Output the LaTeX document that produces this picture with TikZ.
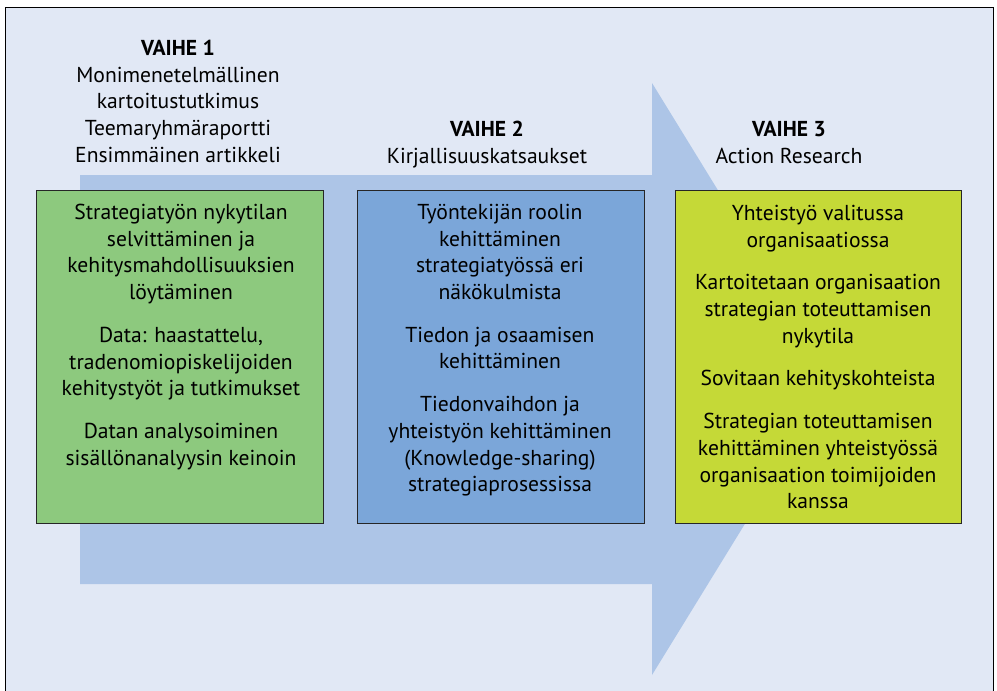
\documentclass[tikz,border=0pt]{standalone}
\usepackage{fontspec}
\setmainfont{PT Sans}
\definecolor{bgc}{HTML}{E1E8F5}
\definecolor{arrowc}{HTML}{ADC5E7}
\definecolor{greenc}{HTML}{8DC97E}
\definecolor{bluec}{HTML}{7BA6D9}
\definecolor{yellowc}{HTML}{C5D937}
\begin{document}
\begin{tikzpicture}[x=1pt,y=-1pt,
  txt/.style={align=center, inner sep=0pt, anchor=north, font=\fontsize{21.6}{26.7}\selectfont},
  phasebox/.style={draw=black!85, line width=1.2pt, anchor=north west, minimum width=287pt, minimum height=333pt, inner sep=0pt}]
\useasboundingbox (0,0) rectangle (997,691);
\fill[white] (0,0) rectangle (997,691);
\fill[bgc] (5,7) rectangle (993,691);
\draw[black, line width=1pt] (5,691) -- (5,7) -- (993,7) -- (993,691);
\fill[arrowc] (80,175) -- (652,175) -- (652,83) -- (834,379) -- (652,675) -- (652,584) -- (80,584) -- cycle;
\node[phasebox, fill=greenc] (b1) at (36,190) {};
\node[phasebox, fill=bluec] (b2) at (357,190) {};
\node[phasebox, fill=yellowc, minimum width=286pt] (b3) at (675,190) {};
\node[txt] (h1) at (178,40) {\textbf{VAIHE 1}\\Monimenetelmällinen\\kartoitustutkimus\\Teemaryhmäraportti\\Ensimmäinen artikkeli};
\node[txt] (h2) at (487,121) {\textbf{VAIHE 2}\\Kirjallisuuskatsaukset};
\node[txt] (h3) at (789,121) {\textbf{VAIHE 3}\\Action Research};
\node[txt] (t1) at (181,204) {Strategiatyön nykytilan\\selvittäminen ja\\kehitysmahdollisuuksien\\löytäminen\\[16pt]Data: haastattelu,\\tradenomiopiskelijoiden\\kehitystyöt ja tutkimukset\\[16pt]Datan analysoiminen\\sisällönanalyysin keinoin};
\node[txt] (t2) at (500,204) {Työntekijän roolin\\kehittäminen\\strategiatyössä eri\\näkökulmista\\[16pt]Tiedon ja osaamisen\\kehittäminen\\[16pt]Tiedonvaihdon ja\\yhteistyön kehittäminen\\(Knowledge-sharing)\\strategiaprosessissa};
\node[txt] (t3) at (818,205) {Yhteistyö valitussa\\organisaatiossa\\[16pt]Kartoitetaan organisaation\\strategian toteuttamisen\\nykytila\\[16pt]Sovitaan kehityskohteista\\[16pt]Strategian toteuttamisen\\kehittäminen yhteistyössä\\organisaation toimijoiden\\kanssa};
\end{tikzpicture}
\end{document}
